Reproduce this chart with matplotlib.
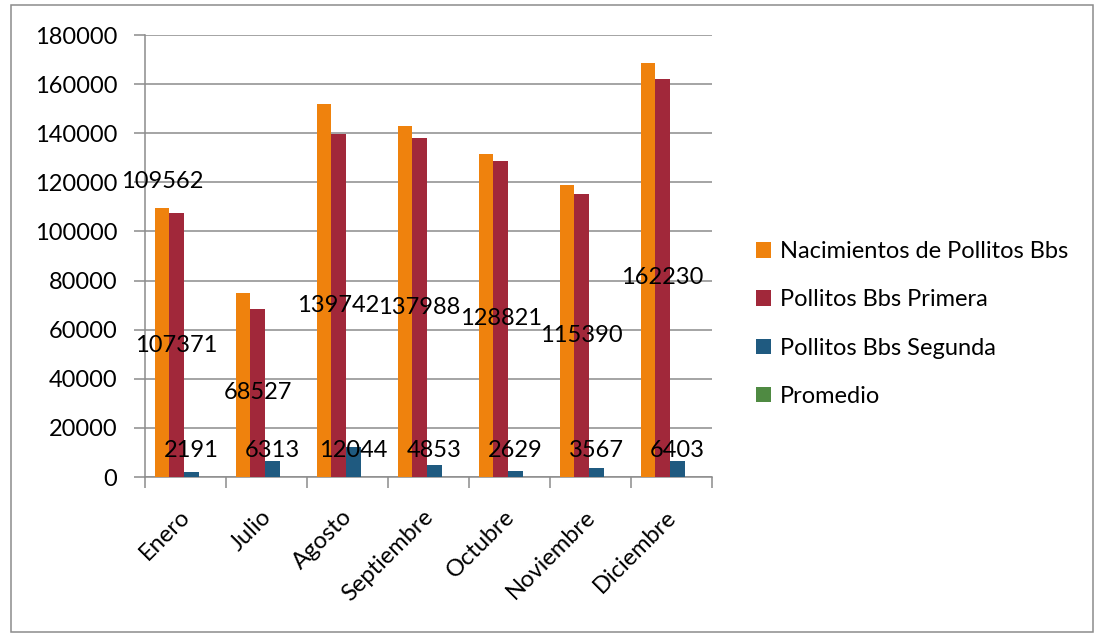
import numpy as np
import matplotlib.pyplot as plt
from matplotlib.patches import Patch, Rectangle
from matplotlib.transforms import ScaledTranslation

plt.rcParams['font.family'] = ['Lato', 'DejaVu Sans']

# data
meses = ["Enero", "Julio", "Agosto", "Septiembre", "Octubre", "Noviembre", "Diciembre"]
nacimientos = [109562, 74800, 151700, 142800, 131400, 118800, 168700]
primera = [107371, 68527, 139742, 137988, 128821, 115390, 162230]
segunda = [2191, 6313, 12044, 4853, 2629, 3567, 6403]
promedio = [0, 0, 0, 0, 0, 0, 0]
series_names = ["Nacimientos de Pollitos Bbs", "Pollitos Bbs Primera",
                "Pollitos Bbs Segunda", "Promedio"]
colors = ["#EF820D", "#A1283A", "#1F5A80", "#4F8A42"]

grid_c = "#8C8C8C"
fs = 17

fig = plt.figure(figsize=(11.04, 6.4), dpi=100)
ax = fig.add_axes([145/1104, 1 - 477/640, (712 - 145)/1104, (477 - 35)/640])

x = np.arange(len(meses))
w = 0.181
series = [nacimientos, primera, segunda, promedio]
for i, vals in enumerate(series):
    ax.bar(x + (i - 1.5) * w - 0.02, vals, width=w, color=colors[i], zorder=3)

# data labels (as placed in the original)
ax.text(x[0] - 1.5 * w - 0.02, nacimientos[0] + 10700, str(nacimientos[0]),
        ha='center', va='center', fontsize=fs, zorder=5)
for i in range(len(meses)):
    ax.text(x[i] - 0.5 * w - 0.02, primera[i] / 2, str(primera[i]),
            ha='center', va='center', fontsize=fs, zorder=5)
    ax.text(x[i] + 0.5 * w - 0.02, 10600, str(segunda[i]),
            ha='center', va='center', fontsize=fs, zorder=5)

ax.set_xlim(-0.5, len(meses) - 0.5)
ax.set_ylim(0, 180000)
ax.set_yticks(np.arange(0, 180001, 20000))
ax.yaxis.grid(True, color=grid_c, lw=1.1, zorder=0)
ax.tick_params(axis='y', length=8, color=grid_c, width=1.1, labelsize=fs, pad=12)

# category labels, rotated 45
ax.set_xticks(np.arange(-0.5, len(meses)))
ax.set_xticklabels([])
ax.tick_params(axis='x', length=8, color=grid_c, width=1.1)
off = ScaledTranslation(-6/100, -29/100, fig.dpi_scale_trans)
for xi, m in zip(x, meses):
    ax.text(xi, 0, m, transform=ax.get_xaxis_transform() + off, rotation=45,
            ha='right', va='top', rotation_mode='anchor', fontsize=fs)

for s in ['top', 'right']:
    ax.spines[s].set_visible(False)
for s in ['left', 'bottom']:
    ax.spines[s].set_color(grid_c)
    ax.spines[s].set_linewidth(1.1)

handles = [Patch(facecolor=c) for c in colors]
fig.legend(handles, series_names, loc='center left', bbox_to_anchor=(735/1104, 1 - 324/640),
           frameon=False, fontsize=fs, handlelength=0.62, handleheight=0.62,
           handletextpad=0.4, labelspacing=1.15)

fig.patches.append(Rectangle((11/1104, 1 - 632/640), (1093 - 11)/1104, (632 - 5)/640,
                             transform=fig.transFigure, fill=False, edgecolor=grid_c, lw=1.1))

plt.savefig("out.png", dpi=100)
